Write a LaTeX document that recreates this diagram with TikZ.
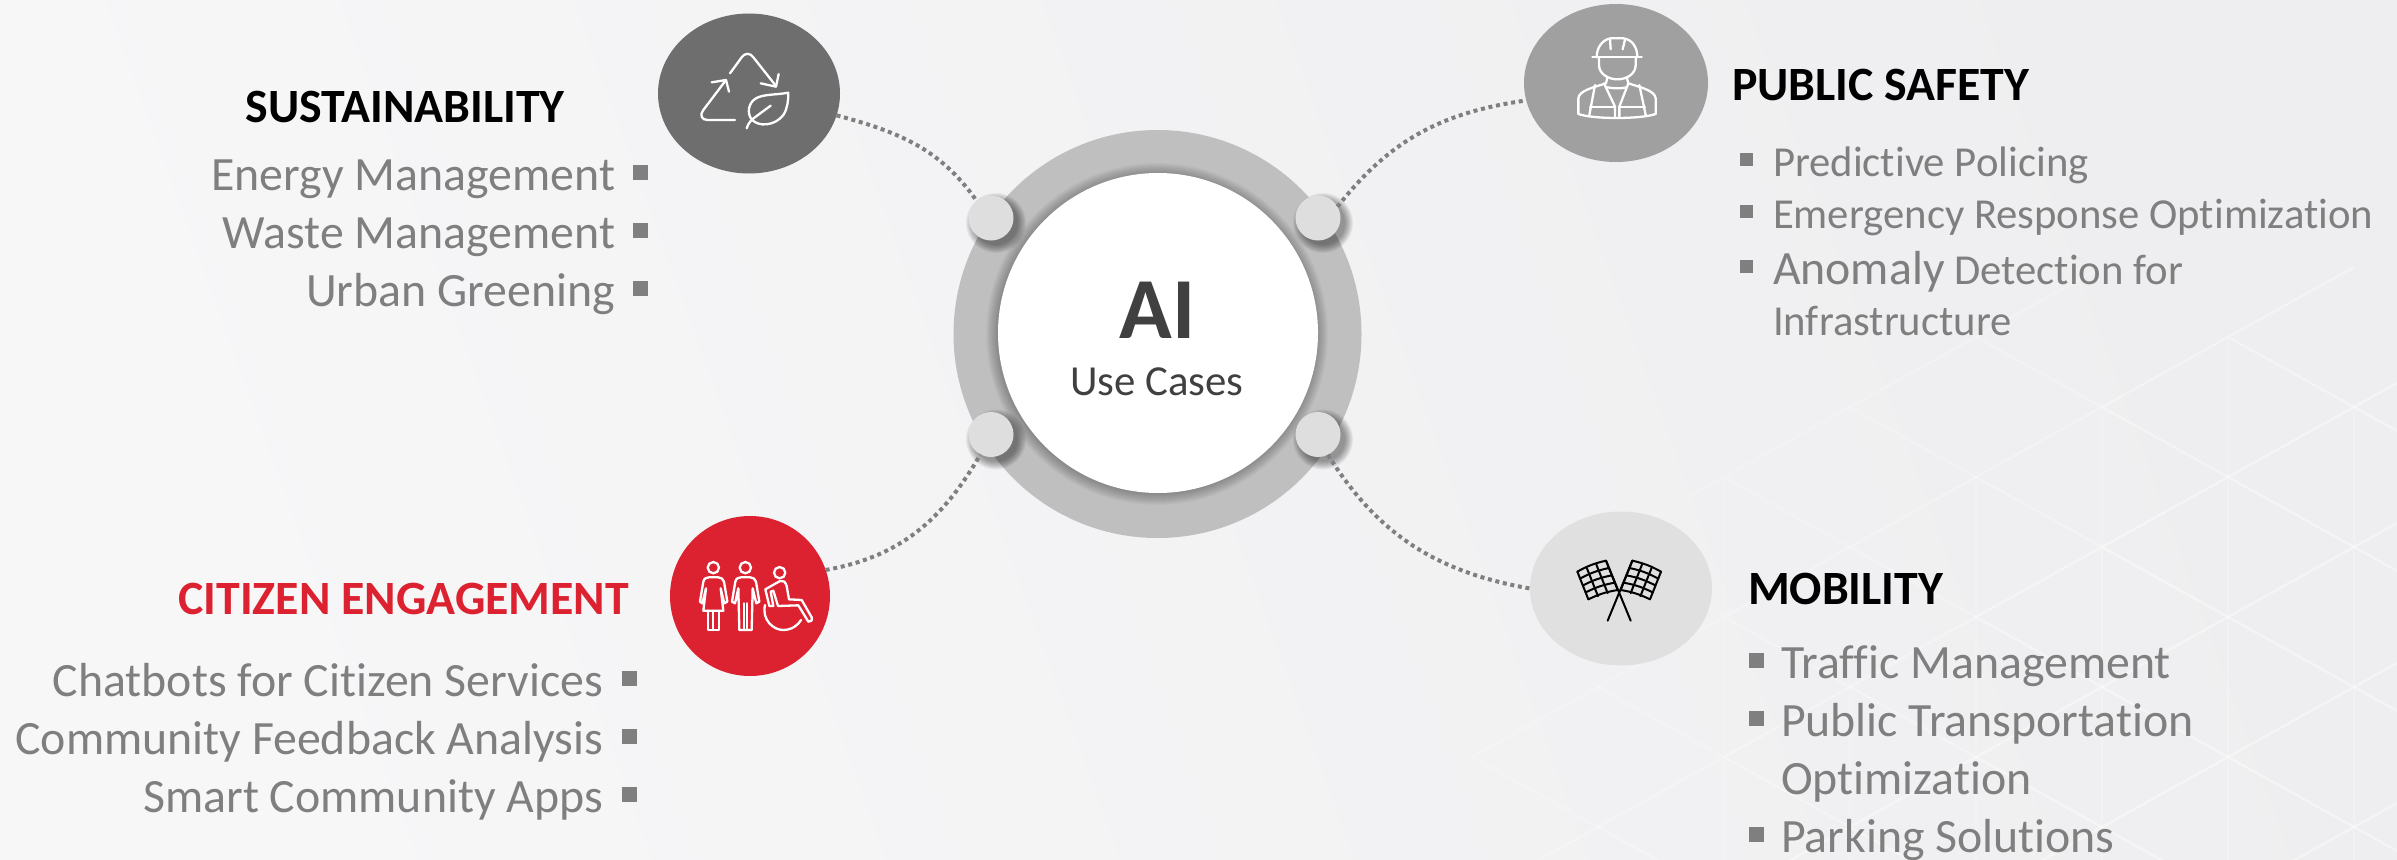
\documentclass[tikz,border=0pt]{standalone}
\usepackage{fontspec}
\setmainfont{Carlito}[Ligatures=CommonOff]
\usetikzlibrary{calc,shapes.geometric}
\definecolor{txtgrey}{HTML}{7F7F7F}
\definecolor{ringgrey}{HTML}{BFBFBF}
\definecolor{dotgrey}{HTML}{7F7F7F}
\definecolor{smallgrey}{HTML}{DEDEDE}
\definecolor{redc}{HTML}{DC2230}
\definecolor{darkc}{HTML}{6E6E6E}
\definecolor{midc}{HTML}{A0A0A0}
\definecolor{lightc}{HTML}{E0E0E0}
\definecolor{hubtxt}{HTML}{404040}
\definecolor{bgleft}{HTML}{F7F7F8}
\definecolor{bgright}{HTML}{EEEEF0}
\tikzset{
  bodytxt/.style={inner sep=0pt,outer sep=0pt,text=txtgrey,font=\fontsize{47.8}{47.8}\selectfont},
  smalltxt/.style={inner sep=0pt,outer sep=0pt,text=txtgrey,font=\fontsize{42.7}{42.7}\selectfont},
  headtxt/.style={inner sep=0pt,outer sep=0pt,text=black,font=\bfseries\fontsize{47.8}{47.8}\selectfont},
  bul/.style={rectangle,fill=txtgrey,minimum width=15pt,minimum height=15pt,inner sep=0pt,outer sep=0pt},
  topic/.style={ellipse,inner sep=0pt,outer sep=0pt},
  port/.style={circle,fill=smallgrey,inner sep=0pt,outer sep=0pt,minimum size=45pt},
  link/.style={draw=dotgrey,line width=4pt,dash pattern=on 4pt off 3.7pt},
  icon/.style={draw=white,line width=2.3pt,line cap=round,line join=round},
  flag/.style={draw=black,line width=2pt,line cap=round,line join=round},
}
\begin{document}
\begin{tikzpicture}[x=1pt,y=-1pt]
\useasboundingbox (0,0) rectangle (2397,859);
% background
\shade[left color=bgleft,right color=bgright,shading angle=110] (0,0) rectangle (2397,859);
% faint lattice
\foreach \i in {-6,...,1}{
  \foreach \j in {-2,...,2}{
    \pgfmathsetmacro{\vx}{2228+126*\i}
    \pgfmathsetmacro{\vy}{617+140*\j+70*mod(abs(\i),2)}
    \pgfmathsetmacro{\op}{max(0,min(1,(\vx-1500+(\vy-350)*1.0)/800))*0.38}
    \draw[white,line width=2.4pt,opacity=\op] (\vx,\vy) -- ++(126,70);
    \draw[white,line width=2.4pt,opacity=\op] (\vx,\vy) -- ++(126,-70);
    \draw[white,line width=1.8pt,opacity=\op*0.5] (\vx,\vy) -- ++(0,140);
  }
}
% hub
\node[circle,fill=ringgrey,minimum size=408pt,inner sep=0pt,outer sep=0pt] (ring) at (1157.5,334) {};
\foreach \r in {171,170,...,160}{\fill[black,opacity=.022] (1157,334) circle[radius=\r];}
\node[circle,fill=white,minimum size=320pt,inner sep=0pt,outer sep=0pt] (hub) at (1158,333) {};
\node[inner sep=0pt,text=hubtxt,font=\bfseries\fontsize{87}{87}\selectfont,anchor=base] (ai) at (1157.5,338) {AI};
\node[inner sep=0pt,text=hubtxt,font=\fontsize{42.8}{42.8}\selectfont,anchor=base] (uc) at (1157,395) {Use Cases};
% ports
\foreach \px/\py in {991/218,1318/218,991/434.5,1318/434.5}{
  \foreach \r in {30,29,...,22}{\fill[black,opacity=.05] (\px+5,\py+5) circle[radius=\r];}
}
\node[port] (p1) at (991,218) {};
\node[port] (p2) at (1318,218) {};
\node[port] (p3) at (991,434.5) {};
\node[port] (p4) at (1318,434.5) {};
% topic discs
\node[topic,fill=darkc,minimum width=182pt,minimum height=160pt] (sus) at (749,93.5) {};
\node[topic,fill=midc,minimum width=184pt,minimum height=158pt] (saf) at (1616,83) {};
\node[topic,fill=redc,minimum width=160pt,minimum height=160pt] (cit) at (750,596) {};
\node[topic,fill=lightc,minimum width=182pt,minimum height=154pt] (mob) at (1621,588.5) {};
% connectors
\draw[link] (sus.-14.5) to[out=-15,in=125] (p1.130);
\draw[link] (p2.30) to[out=52,in=188] (saf.191);
\draw[link] (cit.19) to[out=10,in=-120] (p3.-118);
\draw[link] (p4.-64) to[out=-58,in=170] (mob.180);
% recycle + leaf icon
\begin{scope}[shift={(620,0)},scale=1/3]
  \draw[icon] (330,220) -- (365,172) .. controls (375,158) and (390,158) .. (400,172) -- (468,258);
  \draw[icon] (422,250) -- (468,260) -- (476,222);
  \draw[icon] (345,360) -- (262,360) .. controls (245,360) and (238,345) .. (250,330) -- (318,240);
  \draw[icon] (275,247) -- (318,240) -- (327,275);
  \draw[icon] (505,278) .. controls (470,285) and (430,282) .. (408,295) .. controls (385,308) and (380,340) .. (395,358) .. controls (415,382) and (465,378) .. (490,345) .. controls (503,325) and (505,300) .. (505,278) -- cycle;
  \draw[icon] (380,385) .. controls (385,368) and (395,358) .. (410,348) -- (452,317);
\end{scope}
% worker icon
\begin{scope}[shift={(1480,0)},scale=1/3]
  \draw[icon] (337,172) -- (485,172);
  \draw[icon] (350,172) .. controls (350,140) and (370,118) .. (392,115) -- (430,115) .. controls (455,118) and (472,140) .. (472,172);
  \draw[icon] (390,118) -- (392,148);
  \draw[icon] (435,118) -- (428,148);
  \draw[icon] (357,172) -- (357,195) .. controls (357,222) and (385,238) .. (412,238) .. controls (440,238) and (467,222) .. (467,195) -- (467,172);
  \draw[icon] (382,232) -- (378,250) .. controls (340,262) and (297,272) .. (295,295) -- (295,342) .. controls (340,358) and (480,358) .. (527,342) -- (527,295) .. controls (525,272) and (482,262) .. (445,250) -- (440,232);
  \draw[icon] (345,255) -- (328,345);
  \draw[icon] (478,255) -- (497,345);
  \draw[icon] (372,250) -- (405,320) -- (405,350);
  \draw[icon] (445,250) -- (418,320) -- (418,350);
  \draw[icon] (382,262) .. controls (400,266) and (425,266) .. (440,262);
  \draw[icon] (330,322) -- (405,322);
  \draw[icon] (418,322) -- (495,322);
\end{scope}
% people icon
\begin{scope}[shift={(640,480)},scale=1/3]
  \draw[icon] (220,263) circle[radius=17];
  \draw[icon] (187,370) -- (180,365) -- (190,305) .. controls (192,295) and (200,292) .. (207,292) -- (235,292) .. controls (243,292) and (250,297) .. (252,305) -- (262,365) -- (253,370) -- (242,325) -- (250,392) -- (190,392) -- (198,325) -- cycle;
  \draw[icon] (203,392) -- (203,450) -- (238,450) -- (238,392);
  \draw[icon] (220,392) -- (220,450);
  \draw[icon] (316,263) circle[radius=17];
  \draw[icon] (285,370) -- (276,365) -- (286,305) .. controls (288,295) and (296,292) .. (303,292) -- (331,292) .. controls (339,292) and (346,297) .. (348,305) -- (358,365) -- (349,370) -- (338,325) -- (335,450) -- (298,450) -- (295,325) -- cycle;
  \draw[icon] (312,370) -- (312,450);
  \draw[icon] (321,370) -- (321,450);
  \draw[icon] (419,278) circle[radius=17];
  \draw[icon] (388,378) -- (400,378) -- (392,335) -- (400,332) -- (414,378) -- (475,376) -- (505,425) .. controls (512,428) and (518,420) .. (515,412) -- (485,360) -- (447,358) -- (440,318) .. controls (437,305) and (428,300) .. (420,303) -- (376,328) -- cycle;
  \draw[icon] (375,375) .. controls (365,420) and (400,450) .. (430,450) .. controls (455,450) and (475,435) .. (483,420);
\end{scope}
% flags icon
\begin{scope}[shift={(1480,480)},scale=1/3]
  \coordinate (la) at (292,275); \coordinate (lb) at (378,242); \coordinate (lc) at (413,330); \coordinate (ld) at (325,358);
  \coordinate (ra) at (543,275); \coordinate (rb) at (457,242); \coordinate (rc) at (422,330); \coordinate (rd) at (510,358);
  \foreach \u in {0,0.25,0.5,0.75,1}{
    \draw[flag] ($(la)!\u!(ld)$) to[bend left=8] ($(lb)!\u!(lc)$);
    \draw[flag] ($(ra)!\u!(rd)$) to[bend right=8] ($(rb)!\u!(rc)$);
  }
  \foreach \u in {0,0.33,0.66,1}{
    \draw[flag] ($(la)!\u!(lb)$) -- ($(ld)!\u!(lc)$);
    \draw[flag] ($(ra)!\u!(rb)$) -- ($(rd)!\u!(rc)$);
  }
  \draw[flag] (lb) -- (452,422);
  \draw[flag] (rb) -- (383,422);
\end{scope}
% Sustainability
\node[headtxt,anchor=base] (h1) at (405,122) {SUSTAINABILITY};
\node[bodytxt,anchor=base east] (a1) at (615,190) {Energy Management};
\node[bodytxt,anchor=base east] (a2) at (615,248) {Waste Management};
\node[bodytxt,anchor=base east] (a3) at (615,306) {Urban Greening};
\node[bul] (ab1) at (640,172.5) {};
\node[bul] (ab2) at (640,230) {};
\node[bul] (ab3) at (640,288) {};
% Public safety
\node[headtxt,anchor=base west] (h2) at (1732,100) {PUBLIC SAFETY};
\node[smalltxt,anchor=base west] (b1) at (1773,176) {Predictive Policing};
\node[smalltxt,anchor=base west] (b2) at (1773,228) {Emergency Response Optimization};
\node[smalltxt,anchor=base west] (b3) at (1773,284) {{\fontsize{47.8}{47.8}\selectfont Anomaly} Detection for};
\node[smalltxt,anchor=base west] (b4) at (1773,335) {Infrastructure};
\node[bul,minimum width=13pt,minimum height=13pt] (bb1) at (1746.5,159.5) {};
\node[bul,minimum width=13pt,minimum height=13pt] (bb2) at (1746.5,211) {};
\node[bul,minimum width=13pt,minimum height=13pt] (bb3) at (1746.5,266) {};
% Citizen engagement
\node[headtxt,anchor=base east,text=redc] (h3) at (629,614) {CITIZEN ENGAGEMENT};
\node[bodytxt,anchor=base east] (c1) at (603,696) {Chatbots for Citizen Services};
\node[bodytxt,anchor=base east] (c2) at (603,754) {Community Feedback Analysis};
\node[bodytxt,anchor=base east] (c3) at (603,812) {Smart Community Apps};
\node[bul] (cb1) at (629.5,678) {};
\node[bul] (cb2) at (629.5,736) {};
\node[bul] (cb3) at (629.5,794) {};
% Mobility
\node[headtxt,anchor=base west] (h4) at (1748,604) {MOBILITY};
\node[bodytxt,anchor=base west] (d1) at (1781,678) {Traffic Management};
\node[bodytxt,anchor=base west] (d2) at (1781,736) {Public Transportation};
\node[bodytxt,anchor=base west] (d3) at (1781,794) {Optimization};
\node[bodytxt,anchor=base west] (d4) at (1781,852) {Parking Solutions};
\node[bul] (db1) at (1756.5,660) {};
\node[bul] (db2) at (1756.5,718.5) {};
\node[bul] (db3) at (1756.5,834.5) {};
\end{tikzpicture}
\end{document}
